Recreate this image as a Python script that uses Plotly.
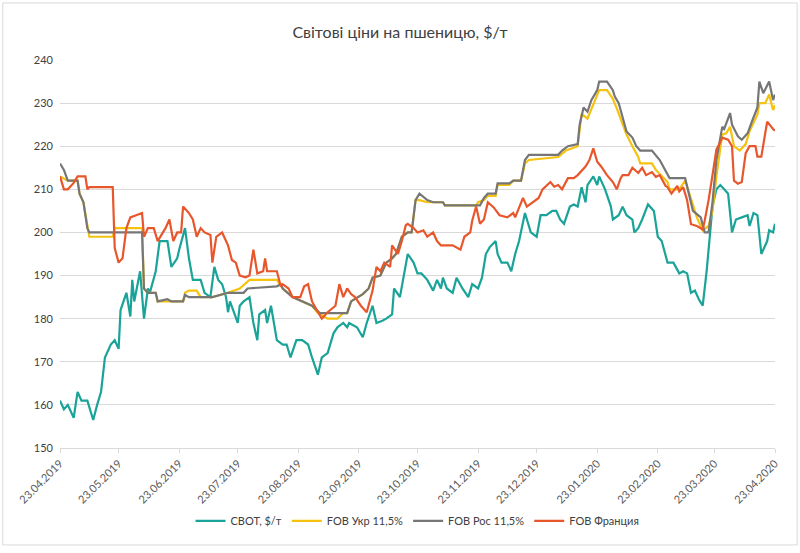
import pandas as pd
import plotly.graph_objects as go

# Days since 23.04.2019 and prices, $/t
cbot_days = [0, 2, 4, 7, 9, 11, 14, 17, 19, 21, 23, 26, 28, 30, 31, 34, 36, 37, 38, 41,
             43, 45, 46, 49, 51, 55, 57, 60, 61, 64, 66, 68, 72, 74, 77, 79, 81, 83, 85, 86,
             87, 90, 91, 92, 94, 97, 99, 101, 102, 105, 106, 108, 111, 114, 116, 118, 121, 124, 127, 129,
             132, 134, 137, 140, 142, 145, 147, 148, 152, 155, 157, 160, 162, 165, 167, 170, 171, 174, 176, 178,
             181, 183, 185, 188, 191, 193, 195, 196, 198, 201, 203, 206, 209, 211, 214, 216, 218, 220, 223, 224,
             226, 229, 231, 233, 235, 238, 241, 244, 246, 249, 252, 254, 256, 258, 261, 263, 265, 267, 269, 270,
             273, 275, 276, 279, 282, 283, 286, 288, 290, 293, 294, 296, 298, 301, 304, 306, 308, 310, 311, 314,
             316, 317, 319, 321, 323, 325, 327, 329, 331, 333, 334, 336, 338, 340, 342, 344, 346, 349, 352, 353,
             355, 357, 359, 362, 363, 365, 366]
cbot = [161, 159, 160, 157, 163, 161, 161, 156.5, 160, 163, 171, 174, 175, 173, 182, 186, 180.5, 189, 184, 191,
        180, 187, 186, 191, 198, 198, 192, 194, 196, 201, 194, 189, 189, 186, 185, 192, 189, 188, 185, 181.5,
        184, 180, 179, 183, 184, 185, 179, 175, 181, 182, 179, 183, 175, 174, 174, 171, 175, 175, 174, 171,
        167, 171, 172, 176.6, 178, 179, 178, 179, 178, 175.7, 179, 183, 179, 179.5, 180, 181, 187, 185, 189.7, 195,
        193, 190.5, 190.5, 189, 186.5, 189, 187, 189.5, 187, 186, 189.5, 187, 185, 188, 187, 189.5, 195, 196.6, 198, 195,
        193, 193, 191, 195, 198, 204.5, 200, 199, 204, 204, 205, 205, 203, 202, 206, 206.5, 206, 210.5, 207, 211,
        213, 211, 213, 210, 206, 203, 204, 206, 204, 203, 200, 201, 203, 206.5, 205, 199, 198, 194.4, 193, 193,
        191.5, 190.5, 191, 190.5, 186, 186.5, 184.5, 183, 191, 200, 206, 210, 211, 210, 209, 200, 203, 203.5, 204, 201.5,
        204.5, 204, 195, 198, 200.5, 200, 202]

ukr_days = [0, 4, 9, 10, 12, 14, 15, 27, 28, 42, 43, 45, 49, 50, 63, 64, 66, 70, 72, 78,
            86, 92, 97, 111, 113, 114, 119, 124, 129, 132, 137, 142, 145, 147, 149, 155, 158, 160, 164, 167,
            170, 172, 175, 178, 180, 182, 184, 188, 191, 196, 197, 213, 214, 217, 219, 223, 224, 230, 232, 236,
            238, 240, 255, 259, 265, 267, 270, 274, 276, 280, 283, 285, 288, 290, 293, 296, 297, 303, 305, 311,
            312, 317, 320, 322, 326, 329, 332, 334, 336, 339, 341, 343, 345, 348, 351, 353, 357, 358, 361, 363,
            365, 366]
ukr = [213, 212, 212, 209, 207, 201, 199, 199, 201, 201, 187, 186, 186, 184, 184, 186, 186.5, 186.5, 185, 185,
       186, 187, 189, 189, 187.5, 187, 185, 184, 183, 181.3, 180, 180, 181.3, 181.3, 184, 185.7, 187, 189.5, 190, 193,
       194, 195, 199, 200, 200, 207.5, 207.5, 207, 207, 207, 206.3, 206.3, 207, 207.5, 208.5, 208.5, 211, 211, 212, 212,
       216, 216.8, 217.5, 219, 220, 227.5, 226.4, 230.7, 233, 233, 231, 228.8, 225, 222.7, 220, 217.5, 216, 216, 214.5, 211.7,
       210, 210, 212, 209, 203.5, 200.5, 201.5, 205, 213, 222.7, 223, 224.5, 220, 219, 220.5, 223.5, 227.3, 230, 230, 232,
       228.4, 229.5]

rus_days = [0, 2, 4, 9, 10, 12, 14, 15, 42, 43, 45, 49, 50, 55, 57, 63, 64, 66, 70, 78,
            86, 94, 96, 111, 113, 114, 119, 124, 129, 133, 147, 149, 155, 158, 160, 164, 167, 170, 172, 175,
            178, 180, 182, 184, 188, 191, 196, 197, 215, 217, 219, 223, 224, 230, 232, 236, 238, 240, 255, 257,
            260, 265, 266, 268, 270, 272, 275, 276, 280, 283, 284, 286, 288, 290, 293, 295, 297, 303, 307, 312,
            320, 321, 324, 328, 330, 332, 334, 336, 339, 340, 343, 344, 347, 349, 352, 354, 357, 358, 360, 363,
            365, 366]
rus = [216, 214.5, 212, 212, 209, 207, 201, 200, 200, 187, 186, 186, 184, 184.5, 184, 184, 185.5, 185, 185, 185,
       186, 186, 187, 187.5, 188, 187, 185, 184, 183, 181.3, 181.3, 184, 185.7, 187, 189.5, 190, 193, 194, 195, 199,
       200, 200, 207.5, 209, 207.5, 207, 207, 206.3, 206.3, 208, 209, 209, 211.4, 211.4, 212, 212, 216.8, 218, 218, 219,
       220, 220.5, 225, 229, 228, 230.7, 233, 235, 235, 233, 231.5, 230, 226.5, 223.4, 222, 220, 219, 219, 216.8, 212.6,
       212.6, 210.6, 205, 203.5, 200, 200, 207, 216.8, 224.5, 224, 227.7, 225, 222.3, 221.5, 223, 225.5, 229, 235, 232.3, 235,
       230.7, 232]

fra_days = [0, 2, 4, 7, 9, 13, 14, 15, 27, 28, 30, 32, 34, 36, 39, 42, 43, 45, 48, 50,
            54, 56, 58, 60, 62, 63, 66, 68, 70, 72, 74, 77, 78, 80, 83, 86, 88, 90, 92, 95,
            97, 99, 101, 104, 105, 106, 111, 113, 114, 117, 119, 123, 125, 127, 129, 132, 134, 137, 141, 143,
            145, 147, 149, 151, 154, 157, 160, 162, 164, 166, 169, 170, 173, 175, 177, 178, 181, 183, 186, 188,
            191, 193, 195, 198, 201, 205, 207, 210, 211, 213, 215, 217, 219, 222, 225, 229, 232, 233, 235, 237,
            239, 242, 245, 247, 251, 253, 255, 257, 260, 263, 265, 269, 271, 273, 275, 277, 280, 283, 285, 287,
            288, 291, 293, 296, 298, 300, 303, 305, 307, 310, 311, 313, 316, 317, 319, 321, 323, 326, 329, 330,
            332, 334, 336, 338, 339, 342, 344, 345, 347, 349, 351, 353, 356, 357, 359, 361, 362, 365, 366]
fra = [213, 210, 210, 211.5, 213, 213, 210, 210.5, 210.5, 196.4, 193, 194, 201, 203.5, 204, 204.5, 199, 201, 201, 198,
       201, 203, 198, 200, 200, 206, 204.5, 203, 199, 201, 200, 199.4, 193, 199, 200, 197, 193.6, 193, 190, 189.6,
       190, 196, 190.5, 191, 194, 191, 191, 187.5, 188, 187, 185, 185, 187.5, 188, 184, 181.7, 180, 181.5, 183, 188,
       185, 187, 185.7, 185, 183, 181.5, 186.5, 192, 191, 193, 192, 197, 195, 198, 201.7, 202, 201, 200, 200.5, 199,
       200, 198, 197, 197, 197, 196, 199, 200, 202.7, 206, 202, 203, 207, 205.8, 204, 203.5, 204.5, 203.5, 206, 208,
       206, 207, 208, 210, 211.7, 210.6, 211, 210, 212.6, 212.6, 213.3, 215.3, 216.8, 219.5, 216.4, 215.3, 213.3, 211.7, 210, 212.6,
       213.3, 213.3, 215, 213.8, 215, 213.3, 214, 212.9, 213.3, 210.8, 210.5, 209, 210.8, 209.5, 210.5, 207.5, 201.9, 201.5, 200.7, 202.7,
       207.5, 213.3, 219.2, 221, 222, 221.5, 220, 212, 211.3, 211.7, 218.4, 220, 220, 217.6, 217.6, 223, 225.7, 224, 223.6]

tick_dates = ["2019-04-23", "2019-05-23", "2019-06-23", "2019-07-23", "2019-08-23", "2019-09-23", "2019-10-23",
              "2019-11-23", "2019-12-23", "2020-01-23", "2020-02-23", "2020-03-23", "2020-04-23"]
tick_labels = ["23.04.2019", "23.05.2019", "23.06.2019", "23.07.2019", "23.08.2019", "23.09.2019", "23.10.2019",
               "23.11.2019", "23.12.2019", "23.01.2020", "23.02.2020", "23.03.2020", "23.04.2020"]

base = pd.Timestamp("2019-04-23")


def to_dates(days):
    return base + pd.to_timedelta(days, unit="D")


series = [
    ("CBOT, $/т", cbot_days, cbot, "#1AA398"),
    ("FOB Укр 11,5%", ukr_days, ukr, "#F4C20F"),
    ("FOB Рос 11,5%", rus_days, rus, "#767676"),
    ("FOB Франция", fra_days, fra, "#E8572B"),
]

fig = go.Figure()
for name, days, vals, color in series:
    fig.add_trace(go.Scatter(x=to_dates(days), y=vals, mode="lines", name=name,
                             line=dict(color=color, width=2.2)))

fig.update_layout(
    width=800, height=553,
    title=dict(text="Світові ціни на пшеницю, $/т", x=0.5, xanchor="center", y=0.952,
               font=dict(size=16, color="#404040")),
    font=dict(family="Lato, Noto Sans, sans-serif", color="#595959", size=11),
    plot_bgcolor="white", paper_bgcolor="white",
    margin=dict(l=60, r=25, t=60, b=105),
    showlegend=True,
    legend=dict(orientation="h", x=0.5, xanchor="center", y=-0.188, yanchor="middle",
                font=dict(size=11, color="#404040"), itemwidth=30, traceorder="normal"),
    xaxis=dict(type="date", range=["2019-04-23", "2020-04-23"],
               tickvals=tick_dates, ticktext=tick_labels, tickangle=-45,
               showgrid=False, showline=True, linecolor="#d9d9d9", linewidth=1,
               ticks="outside", ticklen=4, tickcolor="#d9d9d9",
               tickfont=dict(size=11, color="#595959")),
    yaxis=dict(range=[150, 240], dtick=10, showgrid=True, gridcolor="#d9d9d9",
               zeroline=False, showline=False, ticklabelstandoff=6,
               tickfont=dict(size=11, color="#404040")),
)

# chart frame
fig.add_shape(type="rect", xref="paper", yref="paper",
              x0=-0.08, x1=1.031, y0=-0.25, y1=1.147,
              line=dict(color="#d9d9d9", width=1), layer="below")

# drop the default page margin so the chart sits at the window origin
fig.write_html("out.html", config={"displayModeBar": False},
               post_script="document.body.style.margin='0';")
